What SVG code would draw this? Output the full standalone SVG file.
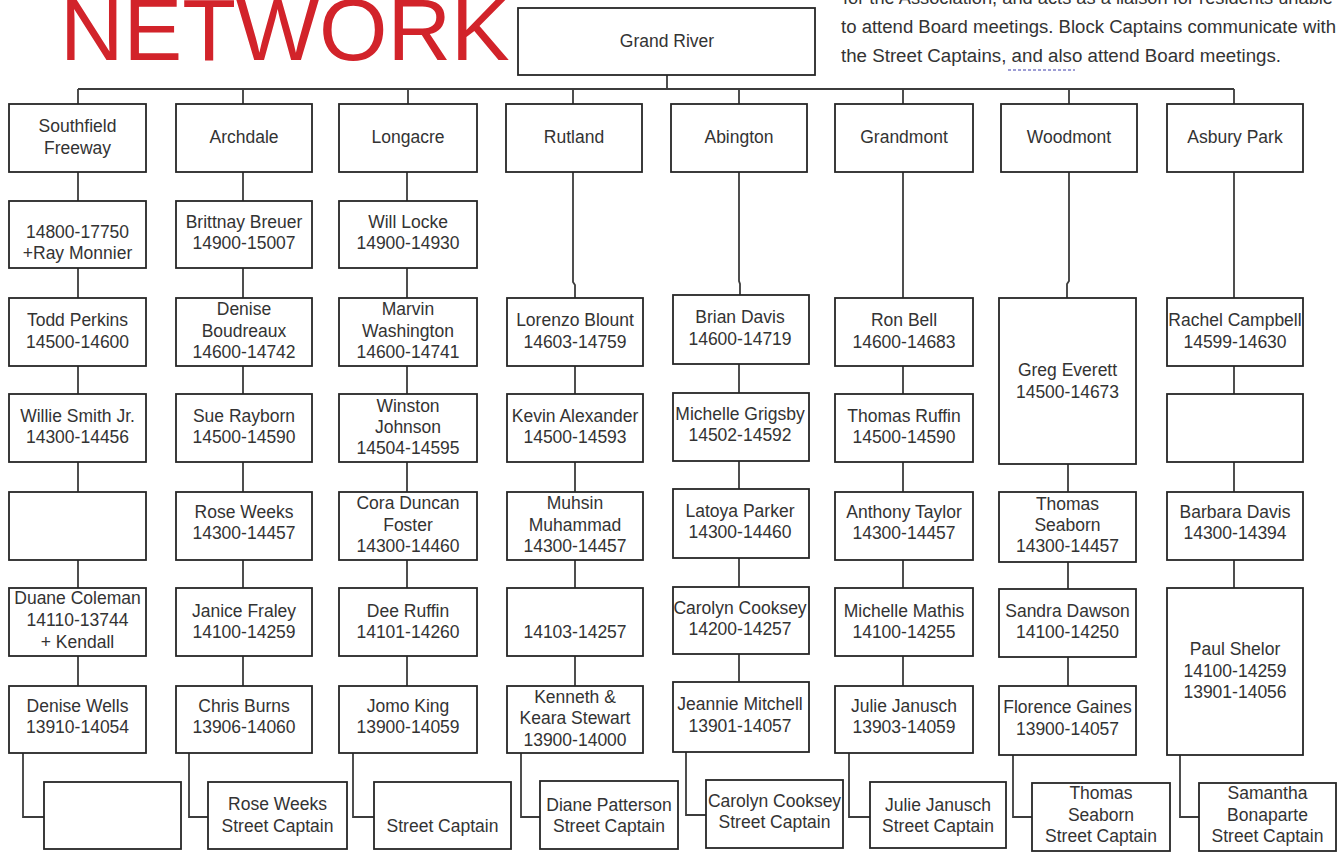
<svg xmlns="http://www.w3.org/2000/svg" width="1338" height="852" viewBox="0 0 1338 852">
<style>
  .bx{fill:#fff;stroke:#262626;stroke-width:1.8}
  .t{font-family:"Liberation Sans",Arial,sans-serif;font-size:17.5px;fill:#333;text-anchor:middle}
  .p{font-family:"Liberation Sans",Arial,sans-serif;font-size:18px;fill:#333}
  .ln{fill:none;stroke:#3c3c3c;stroke-width:1.8}
</style>
<rect width="1338" height="852" fill="#fff"/>
<text x="60" y="60" font-family="Liberation Sans,Arial,sans-serif" font-size="88" fill="#d2232a">NETWORK</text>
<text class="p" x="843" y="4" textLength="490" lengthAdjust="spacingAndGlyphs">for the Association, and acts as a liaison for residents unable</text>
<text class="p" x="841" y="33" textLength="495" lengthAdjust="spacingAndGlyphs">to attend Board meetings.  Block Captains communicate with</text>
<text class="p" x="841" y="62" textLength="440" lengthAdjust="spacingAndGlyphs">the Street Captains, and also attend Board meetings.</text>
<line x1="1008" y1="70" x2="1075" y2="70" stroke="#7d7dc8" stroke-width="1.5" stroke-dasharray="3,2"/>

<g id="connectors" class="ln">
  <path d="M667 75V89M78 89H1234"/>
  <path d="M78 89V104M243 89V104M408 89V104M573 89V104M739 89V104M903 89V104M1069 89V104M1234 89V104"/>
  <path d="M78 172V201M78 268V298M78 366V394M78 462V492M78 560V588M78 656V686"/>
  <path d="M243 172V201M243 268V298M243 366V394M243 462V492M243 560V588M243 656V686"/>
  <path d="M407 172V201M407 268V298M407 366V394M407 462V492M407 560V588M407 656V686"/>
  <path d="M573 172V282L575 285V298M575 366V394M575 462V492M575 560V588M575 656V686"/>
  <path d="M739 172V281L740 284V295M739 364V393M739 461V489M739 558V587M739 654V682"/>
  <path d="M903 172V298M903 366V394M903 462V492M903 560V588M903 656V686"/>
  <path d="M1069 172V281L1067 284V298M1068 464V492M1068 562V589M1068 657V686"/>
  <path d="M1234 172V298M1234 366V394M1234 462V492M1234 560V588"/>
  <path d="M23 753V817H44M189 753V817H208M353 753V817H374M521 753V817H540M686 752V815H706M849 753V817H870M1013 755V817H1032M1180 755V817H1199"/>
</g>

<g id="grand-river"><rect class="bx" x="518" y="8" width="297" height="67"/><text class="t" x="667" y="47" font-size="16">Grand River</text></g>

<g id="southfield">
  <g id="sf-h"><rect class="bx" x="9" y="104" width="137" height="68"/><text class="t" x="77.5" y="132">Southfield</text><text class="t" x="77.5" y="154">Freeway</text></g>
  <g id="sf-2"><rect class="bx" x="9" y="201" width="137" height="67"/><text class="t" x="77.5" y="238">14800-17750</text><text class="t" x="77.5" y="259">+Ray Monnier</text></g>
  <g id="sf-3"><rect class="bx" x="9" y="298" width="137" height="68"/><text class="t" x="77.5" y="326">Todd Perkins</text><text class="t" x="77.5" y="348">14500-14600</text></g>
  <g id="sf-4"><rect class="bx" x="9" y="394" width="137" height="68"/><text class="t" x="77.5" y="422">Willie Smith Jr.</text><text class="t" x="77.5" y="443">14300-14456</text></g>
  <g id="sf-5"><rect class="bx" x="9" y="492" width="137" height="68"/></g>
  <g id="sf-6"><rect class="bx" x="9" y="588" width="137" height="68"/><text class="t" x="77.5" y="604">Duane Coleman</text><text class="t" x="77.5" y="626">14110-13744</text><text class="t" x="77.5" y="648">+ Kendall</text></g>
  <g id="sf-7"><rect class="bx" x="9" y="686" width="137" height="67"/><text class="t" x="77.5" y="712">Denise Wells</text><text class="t" x="77.5" y="733">13910-14054</text></g>
  <g id="sf-sc"><rect class="bx" x="44" y="782" width="137" height="67"/></g>
</g>

<g id="archdale">
  <g id="ar-h"><rect class="bx" x="176" y="104" width="136" height="68"/><text class="t" x="244" y="143">Archdale</text></g>
  <g id="ar-2"><rect class="bx" x="176" y="201" width="136" height="67"/><text class="t" x="244" y="228">Brittnay Breuer</text><text class="t" x="244" y="249">14900-15007</text></g>
  <g id="ar-3"><rect class="bx" x="176" y="298" width="136" height="68"/><text class="t" x="244" y="315">Denise</text><text class="t" x="244" y="337">Boudreaux</text><text class="t" x="244" y="358">14600-14742</text></g>
  <g id="ar-4"><rect class="bx" x="176" y="394" width="136" height="68"/><text class="t" x="244" y="422">Sue Rayborn</text><text class="t" x="244" y="443">14500-14590</text></g>
  <g id="ar-5"><rect class="bx" x="176" y="492" width="136" height="68"/><text class="t" x="244" y="518">Rose Weeks</text><text class="t" x="244" y="539">14300-14457</text></g>
  <g id="ar-6"><rect class="bx" x="176" y="588" width="136" height="68"/><text class="t" x="244" y="617">Janice Fraley</text><text class="t" x="244" y="638">14100-14259</text></g>
  <g id="ar-7"><rect class="bx" x="176" y="686" width="136" height="67"/><text class="t" x="244" y="712">Chris Burns</text><text class="t" x="244" y="733">13906-14060</text></g>
  <g id="ar-sc"><rect class="bx" x="208" y="782" width="139" height="67"/><text class="t" x="277.5" y="810">Rose Weeks</text><text class="t" x="277.5" y="832">Street Captain</text></g>
</g>

<g id="longacre">
  <g id="lo-h"><rect class="bx" x="339" y="104" width="138" height="68"/><text class="t" x="408" y="143">Longacre</text></g>
  <g id="lo-2"><rect class="bx" x="339" y="201" width="138" height="67"/><text class="t" x="408" y="228">Will Locke</text><text class="t" x="408" y="249">14900-14930</text></g>
  <g id="lo-3"><rect class="bx" x="339" y="298" width="138" height="68"/><text class="t" x="408" y="315">Marvin</text><text class="t" x="408" y="337">Washington</text><text class="t" x="408" y="358">14600-14741</text></g>
  <g id="lo-4"><rect class="bx" x="339" y="394" width="138" height="68"/><text class="t" x="408" y="412">Winston</text><text class="t" x="408" y="433">Johnson</text><text class="t" x="408" y="454">14504-14595</text></g>
  <g id="lo-5"><rect class="bx" x="339" y="492" width="138" height="68"/><text class="t" x="408" y="509">Cora Duncan</text><text class="t" x="408" y="531">Foster</text><text class="t" x="408" y="552">14300-14460</text></g>
  <g id="lo-6"><rect class="bx" x="339" y="588" width="138" height="68"/><text class="t" x="408" y="617">Dee Ruffin</text><text class="t" x="408" y="638">14101-14260</text></g>
  <g id="lo-7"><rect class="bx" x="339" y="686" width="138" height="67"/><text class="t" x="408" y="712">Jomo King</text><text class="t" x="408" y="733">13900-14059</text></g>
  <g id="lo-sc"><rect class="bx" x="374" y="782" width="137" height="67"/><text class="t" x="442.5" y="832">Street Captain</text></g>
</g>

<g id="rutland">
  <g id="ru-h"><rect class="bx" x="506" y="104" width="136" height="68"/><text class="t" x="574" y="143">Rutland</text></g>
  <g id="ru-3"><rect class="bx" x="507" y="298" width="136" height="68"/><text class="t" x="575" y="326">Lorenzo Blount</text><text class="t" x="575" y="348">14603-14759</text></g>
  <g id="ru-4"><rect class="bx" x="507" y="394" width="136" height="68"/><text class="t" x="575" y="422">Kevin Alexander</text><text class="t" x="575" y="443">14500-14593</text></g>
  <g id="ru-5"><rect class="bx" x="507" y="492" width="136" height="68"/><text class="t" x="575" y="509">Muhsin</text><text class="t" x="575" y="531">Muhammad</text><text class="t" x="575" y="552">14300-14457</text></g>
  <g id="ru-6"><rect class="bx" x="507" y="588" width="136" height="68"/><text class="t" x="575" y="638">14103-14257</text></g>
  <g id="ru-7"><rect class="bx" x="507" y="686" width="136" height="67"/><text class="t" x="575" y="703">Kenneth &amp;</text><text class="t" x="575" y="724">Keara Stewart</text><text class="t" x="575" y="746">13900-14000</text></g>
  <g id="ru-sc"><rect class="bx" x="540" y="781" width="138" height="68"/><text class="t" x="609" y="811">Diane Patterson</text><text class="t" x="609" y="832">Street Captain</text></g>
</g>

<g id="abington">
  <g id="ab-h"><rect class="bx" x="671" y="104" width="136" height="68"/><text class="t" x="739" y="143">Abington</text></g>
  <g id="ab-3"><rect class="bx" x="673" y="295" width="136" height="69"/><text class="t" x="740" y="323">Brian Davis</text><text class="t" x="740" y="345">14600-14719</text></g>
  <g id="ab-4"><rect class="bx" x="673" y="393" width="136" height="68"/><text class="t" x="740" y="420">Michelle Grigsby</text><text class="t" x="740" y="441">14502-14592</text></g>
  <g id="ab-5"><rect class="bx" x="673" y="489" width="136" height="69"/><text class="t" x="740" y="517">Latoya Parker</text><text class="t" x="740" y="538">14300-14460</text></g>
  <g id="ab-6"><rect class="bx" x="673" y="587" width="136" height="67"/><text class="t" x="740" y="614">Carolyn Cooksey</text><text class="t" x="740" y="635">14200-14257</text></g>
  <g id="ab-7"><rect class="bx" x="673" y="682" width="136" height="70"/><text class="t" x="740" y="710">Jeannie Mitchell</text><text class="t" x="740" y="732">13901-14057</text></g>
  <g id="ab-sc"><rect class="bx" x="706" y="780" width="137" height="68"/><text class="t" x="774.5" y="807">Carolyn Cooksey</text><text class="t" x="774.5" y="828">Street Captain</text></g>
</g>

<g id="grandmont">
  <g id="gr-h"><rect class="bx" x="835" y="104" width="138" height="68"/><text class="t" x="904" y="143">Grandmont</text></g>
  <g id="gr-3"><rect class="bx" x="835" y="298" width="138" height="68"/><text class="t" x="904" y="326">Ron Bell</text><text class="t" x="904" y="348">14600-14683</text></g>
  <g id="gr-4"><rect class="bx" x="835" y="394" width="138" height="68"/><text class="t" x="904" y="422">Thomas Ruffin</text><text class="t" x="904" y="443">14500-14590</text></g>
  <g id="gr-5"><rect class="bx" x="835" y="492" width="138" height="68"/><text class="t" x="904" y="518">Anthony Taylor</text><text class="t" x="904" y="539">14300-14457</text></g>
  <g id="gr-6"><rect class="bx" x="835" y="588" width="138" height="68"/><text class="t" x="904" y="617">Michelle Mathis</text><text class="t" x="904" y="638">14100-14255</text></g>
  <g id="gr-7"><rect class="bx" x="835" y="686" width="138" height="67"/><text class="t" x="904" y="712">Julie Janusch</text><text class="t" x="904" y="733">13903-14059</text></g>
  <g id="gr-sc"><rect class="bx" x="870" y="782" width="136" height="66"/><text class="t" x="938" y="811">Julie Janusch</text><text class="t" x="938" y="832">Street Captain</text></g>
</g>

<g id="woodmont">
  <g id="wo-h"><rect class="bx" x="1001" y="104" width="136" height="68"/><text class="t" x="1069" y="143">Woodmont</text></g>
  <g id="wo-3"><rect class="bx" x="999" y="298" width="137" height="166"/><text class="t" x="1067.5" y="376">Greg Everett</text><text class="t" x="1067.5" y="398">14500-14673</text></g>
  <g id="wo-5"><rect class="bx" x="999" y="492" width="137" height="70"/><text class="t" x="1067.5" y="510">Thomas</text><text class="t" x="1067.5" y="531">Seaborn</text><text class="t" x="1067.5" y="552">14300-14457</text></g>
  <g id="wo-6"><rect class="bx" x="999" y="589" width="137" height="68"/><text class="t" x="1067.5" y="617">Sandra Dawson</text><text class="t" x="1067.5" y="638">14100-14250</text></g>
  <g id="wo-7"><rect class="bx" x="999" y="686" width="137" height="69"/><text class="t" x="1067.5" y="713">Florence Gaines</text><text class="t" x="1067.5" y="735">13900-14057</text></g>
  <g id="wo-sc"><rect class="bx" x="1032" y="783" width="138" height="68"/><text class="t" x="1101" y="799">Thomas</text><text class="t" x="1101" y="821">Seaborn</text><text class="t" x="1101" y="842">Street Captain</text></g>
</g>

<g id="asbury-park">
  <g id="as-h"><rect class="bx" x="1167" y="104" width="136" height="68"/><text class="t" x="1235" y="143">Asbury Park</text></g>
  <g id="as-3"><rect class="bx" x="1167" y="298" width="136" height="68"/><text class="t" x="1235" y="326">Rachel Campbell</text><text class="t" x="1235" y="348">14599-14630</text></g>
  <g id="as-4"><rect class="bx" x="1167" y="394" width="136" height="68"/></g>
  <g id="as-5"><rect class="bx" x="1167" y="492" width="136" height="68"/><text class="t" x="1235" y="518">Barbara Davis</text><text class="t" x="1235" y="539">14300-14394</text></g>
  <g id="as-6"><rect class="bx" x="1167" y="588" width="136" height="167"/><text class="t" x="1235" y="655">Paul Shelor</text><text class="t" x="1235" y="677">14100-14259</text><text class="t" x="1235" y="698">13901-14056</text></g>
  <g id="as-sc"><rect class="bx" x="1199" y="783" width="137" height="68"/><text class="t" x="1267.5" y="799">Samantha</text><text class="t" x="1267.5" y="821">Bonaparte</text><text class="t" x="1267.5" y="842">Street Captain</text></g>
</g>
</svg>
